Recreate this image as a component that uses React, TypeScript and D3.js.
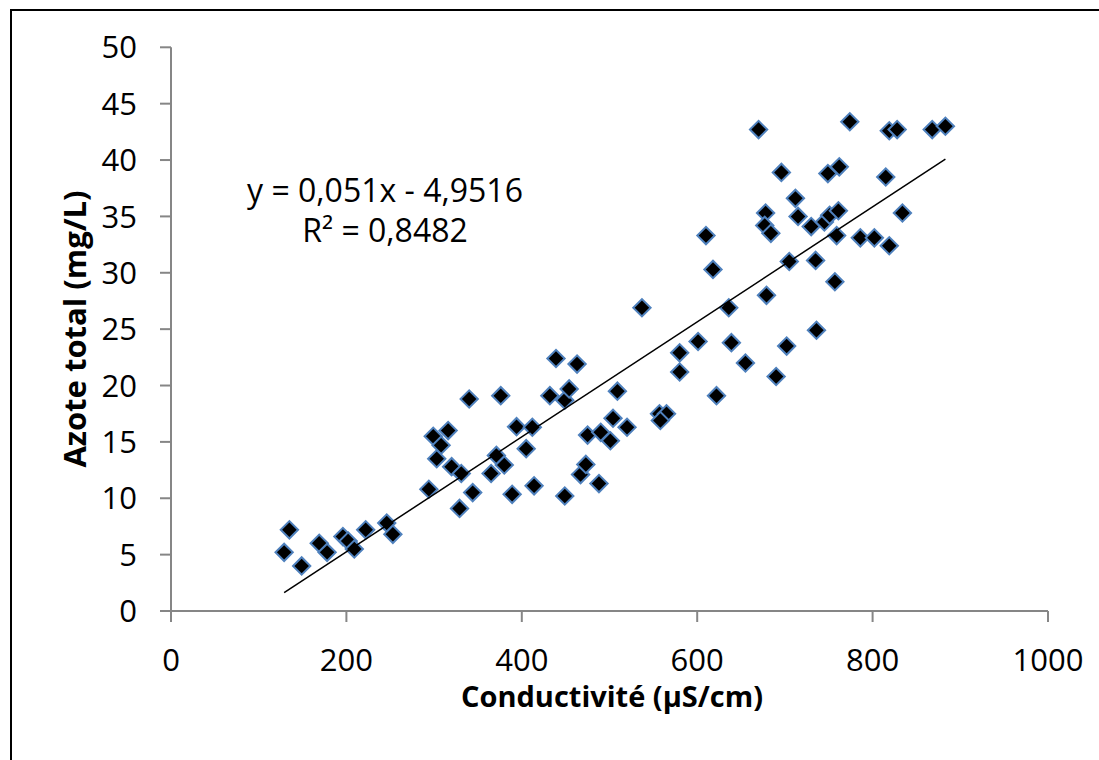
import React from 'react';
import * as d3 from 'd3';

// conductivity (µS/cm) and total nitrogen (mg/L)
const conductivite = [
  129, 135, 149, 169, 178, 196, 202, 209, 222, 246, 253, 294, 299, 303, 308,
  316, 320, 329, 331, 340, 344, 365, 371, 376, 380, 389, 394, 405, 412, 414,
  432, 439, 449, 449, 454, 463, 467, 473, 475, 488, 490, 501, 504, 509, 520,
  537, 557, 565, 558, 580, 580, 601, 610, 618, 622, 636, 639, 655, 670, 678,
  677, 684, 679, 690, 696, 702, 705, 712, 715, 730, 735, 736, 745, 749, 751,
  757, 759, 761, 762, 774, 786, 802, 815, 819, 819, 828, 834, 868, 883
];
const azoteTotal = [
  5.2, 7.2, 4.0, 6.0, 5.2, 6.6, 6.2, 5.5, 7.2, 7.8, 6.8, 10.8, 15.5, 13.5, 14.7,
  16.0, 12.8, 9.1, 12.2, 18.8, 10.5, 12.2, 13.8, 19.1, 12.95, 10.35, 16.35, 14.4, 16.3, 11.1,
  19.1, 22.4, 18.7, 10.2, 19.7, 21.9, 12.1, 13.0, 15.6, 11.3, 15.85, 15.1, 17.1, 19.5, 16.3,
  26.9, 17.5, 17.5, 16.9, 22.9, 21.2, 23.9, 33.3, 30.3, 19.1, 26.9, 23.8, 22.0, 42.7, 35.3,
  34.2, 33.5, 28.0, 20.8, 38.9, 23.5, 31.0, 36.6, 35.0, 34.1, 31.1, 24.9, 34.5, 38.8, 35.1,
  29.2, 33.3, 35.5, 39.4, 43.4, 33.1, 33.1, 38.5, 42.6, 32.4, 42.7, 35.3, 42.7, 43.0
];
const xTicks = [0, 200, 400, 600, 800, 1000];
const yTicks = [0, 5, 10, 15, 20, 25, 30, 35, 40, 45, 50];
// linear fit shown on the chart
const slope = 0.051;
const intercept = -4.9516;
const equationLabel = 'y = 0,051x - 4,9516';
const r2Label = 'R² = 0,8482';

const W = 1099;
const H = 760;
const font = '"Open Sans", "Noto Sans", sans-serif';

export default function App() {
  const x = d3.scaleLinear().domain([0, 1000]).range([171, 1048]);
  const y = d3.scaleLinear().domain([0, 50]).range([611, 47.3]);

  const points = conductivite.map((c, i) => ({ c, a: azoteTotal[i] }));
  const diamond = d3.symbol().type(d3.symbolSquare).size(150)();

  const [xMin, xMax] = d3.extent(conductivite) as [number, number];
  const line = d3
    .line<number>()
    .x(d => x(d))
    .y(d => y(slope * d + intercept));

  const axisColor = '#868686';

  return (
    <svg
      width={W}
      height={H}
      style={{ position: 'absolute', left: 0, top: 0, background: 'white' }}
    >
      {/* outer frame, cut off at right/bottom like the original */}
      <rect x={11} y={10} width={1200} height={900} fill="white" stroke="black" strokeWidth={2} />

      {/* y axis */}
      <line x1={x(0)} x2={x(0)} y1={y(0)} y2={y(50)} stroke={axisColor} strokeWidth={2} />
      {yTicks.map(t => (
        <g key={'y' + t}>
          <line x1={x(0) - 11} x2={x(0)} y1={y(t)} y2={y(t)} stroke={axisColor} strokeWidth={2} />
          <text
            x={x(0) - 34}
            y={y(t)}
            dy="0.36em"
            textAnchor="end"
            fontFamily={font}
            fontSize={31}
            fill="black"
          >
            {t}
          </text>
        </g>
      ))}

      {/* x axis */}
      <line x1={x(0)} x2={x(1000)} y1={y(0)} y2={y(0)} stroke={axisColor} strokeWidth={2} />
      {xTicks.map(t => (
        <g key={'x' + t}>
          <line x1={x(t)} x2={x(t)} y1={y(0)} y2={y(0) + 11} stroke={axisColor} strokeWidth={2} />
          <text
            x={x(t)}
            y={671}
            textAnchor="middle"
            fontFamily={font}
            fontSize={31}
            fill="black"
          >
            {t}
          </text>
        </g>
      ))}

      {/* points */}
      {points.map((p, i) => (
        <path
          key={i}
          d={diamond}
          transform={`translate(${x(p.c)},${y(p.a)}) rotate(45)`}
          fill="black"
          stroke="#4f81bd"
          strokeWidth={2}
        />
      ))}

      {/* trend line */}
      <path d={line([xMin, xMax]) || ''} fill="none" stroke="black" strokeWidth={1.5} />

      <text x={385} y={202} textAnchor="middle" fontFamily={font} fontSize={32} fill="black">
        {equationLabel}
      </text>
      <text x={385} y={242} textAnchor="middle" fontFamily={font} fontSize={32} fill="black">
        {r2Label}
      </text>

      {/* axis titles */}
      <text
        x={612}
        y={707}
        textAnchor="middle"
        fontFamily={font}
        fontWeight="bold"
        fontSize={29}
        fill="black"
      >
        Conductivité (µS/cm)
      </text>
      <text
        transform={`translate(86,329) rotate(-90)`}
        textAnchor="middle"
        fontFamily={font}
        fontWeight="bold"
        fontSize={31}
        fill="black"
      >
        Azote total (mg/L)
      </text>
    </svg>
  );
}
